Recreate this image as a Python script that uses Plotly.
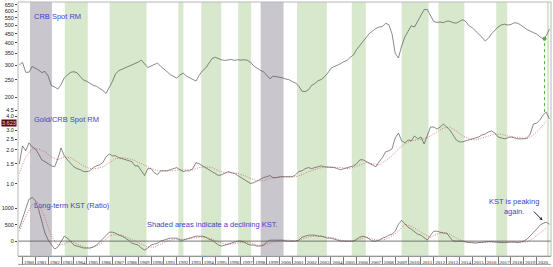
import numpy as np
import plotly.graph_objects as go

# ---------------- data ----------------
# quarterly series, first point 1979.75
crb_spot = [
    302,                                   # 1979.75
    312, 275, 275, 296,                    # 1980
    290, 283, 274, 278,                    # 1981
    262, 232, 228, 222,                    # 1982
    235, 256, 266, 275,                    # 1983
    277, 273, 260, 249,                    # 1984
    245, 238, 233, 230,                    # 1985
    224, 218, 210, 225,                    # 1986
    245, 270, 281, 286,                    # 1987
    291, 295, 300, 306,                    # 1988
    313, 321, 305, 292,                    # 1989
    298, 304, 309, 297,                    # 1990
    288, 277, 267, 260,                    # 1991
    255, 266, 272, 262,                    # 1992
    256, 251, 246, 265,                    # 1993
    280, 290, 308, 328,                    # 1994
    333, 326, 322, 320,                    # 1995
    322, 324, 320, 323,                    # 1996
    321, 323, 320, 312,                    # 1997
    298, 289, 282, 277,                    # 1998
    263, 253, 262, 260,                    # 1999
    260, 256, 252, 250,                    # 2000
    244, 240, 230, 216,                    # 2001
    215, 220, 233, 238,                    # 2002
    247, 251, 260, 272,                    # 2003
    290, 295, 301, 307,                    # 2004
    315, 320, 333, 343,                    # 2005
    368, 388, 407, 428,                    # 2006
    452, 466, 481, 490,                    # 2007
    493, 514, 505, 450,                    # 2008
    350, 330, 385, 432,                    # 2009
    465, 498, 490, 525,                    # 2010
    570, 612, 612, 568,                    # 2011
    525, 520, 522, 518,                    # 2012
    528, 527, 518, 515,                    # 2013
    526, 538, 525, 497,                    # 2014
    485, 466, 453, 430,                    # 2015
    410, 425, 450, 470,                    # 2016
    490, 503, 508, 503,                    # 2017
    506, 517, 515, 504,                    # 2018
    488, 474, 465, 455,                    # 2019
    448, 433, 422, 438,                    # 2020
    478,                                   # 2021.0
]

gold_crb_ratio = [
    1.50,
    2.17, 1.96, 2.31, 2.13,                # 1980
    2.04, 1.84, 1.63, 1.57,                # 1981
    1.50, 1.44, 1.41, 1.67,                # 1982
    2.08, 1.77, 1.63, 1.50,                # 1983
    1.41, 1.36, 1.33, 1.28,                # 1984
    1.28, 1.30, 1.39, 1.44,                # 1985
    1.47, 1.54, 1.73, 1.84,                # 1986
    1.77, 1.77, 1.70, 1.67,                # 1987
    1.63, 1.60, 1.57, 1.44,                # 1988
    1.44, 1.30, 1.18, 1.36,                # 1989
    1.36, 1.25, 1.20, 1.30,                # 1990
    1.30, 1.30, 1.33, 1.36,                # 1991
    1.39, 1.33, 1.28, 1.30,                # 1992
    1.30, 1.36, 1.54, 1.50,                # 1993
    1.44, 1.39, 1.33, 1.28,                # 1994
    1.23, 1.18, 1.20, 1.25,                # 1995
    1.28, 1.25, 1.23, 1.18,                # 1996
    1.13, 1.09, 1.04, 1.00,                # 1997
    1.02, 1.06, 1.09, 1.13,                # 1998
    1.15, 1.18, 1.13, 1.13,                # 1999
    1.15, 1.15, 1.15, 1.15,                # 2000
    1.15, 1.20, 1.28, 1.30,                # 2001
    1.36, 1.39, 1.36, 1.39,                # 2002
    1.41, 1.44, 1.41, 1.41,                # 2003
    1.39, 1.39, 1.36, 1.33,                # 2004
    1.36, 1.39, 1.41, 1.44,                # 2005
    1.50, 1.63, 1.63, 1.57,                # 2006
    1.50, 1.44, 1.41, 1.57,                # 2007
    1.70, 1.92, 1.96, 2.04,                # 2008
    2.56, 2.83, 2.41, 2.31,                # 2009
    2.45, 2.41, 2.66, 2.51,                # 2010
    2.61, 2.26, 2.72, 3.20,                # 2011
    3.20, 3.07, 3.20, 3.40,                # 2012
    3.20, 3.01, 2.72, 2.45,                # 2013
    2.36, 2.36, 2.41, 2.45,                # 2014
    2.51, 2.56, 2.61, 2.72,                # 2015
    2.77, 2.89, 2.95, 2.83,                # 2016
    2.61, 2.56, 2.51, 2.56,                # 2017
    2.61, 2.56, 2.51, 2.51,                # 2018
    2.51, 2.56, 2.77, 3.40,                # 2019
    3.47, 3.69, 4.09, 4.35,                # 2020
    3.77,
]

kst_ratio = [
    394,
    697, 1030, 1273, 1333,                 # 1980
    1242, 970, 606, 242,                   # 1981
    30, -121, -242, -182,                  # 1982
    0, 152, 91, -30,                       # 1983
    -121, -152, -182, -212,                # 1984
    -212, -212, -182, -121,                # 1985
    -30, 61, 182, 273,                     # 1986
    273, 242, 182, 152,                    # 1987
    91, 30, -61, -91,                      # 1988
    -121, -212, -273, -212,                # 1989
    -121, -91, -61, 0,                     # 1990
    30, 61, 91, 91,                        # 1991
    91, 30, 30, 61,                        # 1992
    91, 121, 152, 152,                     # 1993
    152, 121, 61, 30,                      # 1994
    -61, -121, -152, -121,                 # 1995
    -91, -61, -30, 0,                      # 1996
    0, -30, -91, -121,                     # 1997
    -121, -152, -152, -121,                # 1998
    -30, 30, 30, 30,                       # 1999
    30, 30, 0, 0,                          # 2000
    0, 0, 30, 121,                         # 2001
    152, 182, 182, 182,                    # 2002
    152, 152, 121, 91,                     # 2003
    91, 61, 30, 0,                         # 2004
    0, 0, 0, 0,                            # 2005
    61, 121, 152, 121,                     # 2006
    61, 0, 0, 30,                          # 2007
    91, 121, 182, 212,                     # 2008
    303, 515, 636, 515,                    # 2009
    424, 364, 273, 212,                    # 2010
    182, 91, 30, 182,                      # 2011
    303, 303, 273, 242,                    # 2012
    242, 121, 0, 0,                        # 2013
    0, 0, -30, -45,                        # 2014
    -60, -60, -45, -30,                    # 2015
    -30, -15, -15, -30,                    # 2016
    -30, -45, -45, -30,                    # 2017
    -30, -30, -45, -30,                    # 2018
    0, 61, 152, 242,                       # 2019
    364, 485, 545, 576,                    # 2020
    515,
]

# half-yearly smoothed (red dotted) lines, first point 1979.75
ratio_signal = [
    1.23, 1.73, 2.04, 2.04, 1.92, 1.73, 1.63, 1.73, 1.70, 1.57,   # 1979.75-1984.25
    1.44, 1.36, 1.36, 1.41, 1.54, 1.67, 1.70, 1.67, 1.60, 1.50,   # 1984.75-1989.25
    1.41, 1.33, 1.30, 1.30, 1.30, 1.33, 1.33, 1.33, 1.39, 1.41,   # 1989.75-1994.25
    1.39, 1.30, 1.25, 1.25, 1.23, 1.18, 1.11, 1.06, 1.06, 1.11,   # 1994.75-1999.25
    1.13, 1.15, 1.15, 1.15, 1.20, 1.28, 1.33, 1.39, 1.41, 1.41,   # 1999.75-2004.25
    1.39, 1.36, 1.39, 1.47, 1.54, 1.50, 1.47, 1.60, 1.77, 2.04,   # 2004.75-2009.25
    2.26, 2.41, 2.45, 2.51, 2.66, 2.89, 3.14, 3.20, 2.95, 2.66,   # 2009.75-2014.25
    2.51, 2.45, 2.56, 2.66, 2.77, 2.77, 2.66, 2.61, 2.56, 2.51,   # 2014.75-2019.25
    2.72, 3.07, 3.62,                                             # 2019.75-2020.75
]

kst_signal = [
    303, 758, 1121, 1182, 697, 152, -121, -91, 0, -91,            # 1979.75-1984.25
    -182, -212, -152, -30, 152, 212, 182, 91, 0, -91,             # 1984.75-1989.25
    -182, -182, -91, 0, 61, 61, 61, 91, 121, 121,                 # 1989.75-1994.25
    61, -30, -91, -91, -61, -30, -61, -121, -121, -61,            # 1994.75-1999.25
    0, 30, 30, 0, 61, 121, 152, 152, 121, 91,                     # 1999.75-2004.25
    30, 0, 0, 61, 121, 61, 30, 61, 152, 303,                      # 2004.75-2009.25
    515, 455, 333, 212, 121, 212, 273, 212, 91, 0,                # 2009.75-2014.25
    -30, -40, -40, -30, -30, -35, -35, -35, -35, -30,             # 2014.75-2019.25
    91, 242, 394,                                                 # 2019.75-2020.75
]

quarter_dates = 1979.75 + 0.25 * np.arange(len(crb_spot))
half_dates = 1979.75 + 0.5 * np.arange(len(ratio_signal))

# periods of declining KST (start, end) in decimal years
gray_periods = [(1980.58, 1982.29), (1998.53, 2000.31)]
green_periods = [(1983.29, 1985.08), (1986.78, 1989.65), (1992.13, 1992.52),
                 (1993.91, 1995.46), (1996.78, 1997.79), (2001.36, 2003.68),
                 (2005.62, 2006.71), (2009.50, 2011.59), (2012.36, 2014.38),
                 (2016.86, 2017.71), (2020.81, 2020.97)]

years = list(range(1980, 2021))
crb_ticks = [200, 250, 300, 350, 400, 450, 500, 550, 600, 650]
ratio_ticks = [1.0, 1.5, 2.0, 2.5, 3.0, 4.0, 4.5]
kst_ticks = [0, 500, 1000]
last_ratio_label = "3.623"
marker_date = 2020.62
marker_crb = 422
marker_ratio = 4.35

# ---------------- layout helpers ----------------
X_RANGE = [1979.65, 2021.12]
D1 = [0.5703, 1.0]
D2 = [0.207, 0.586]
D3 = [0.0, 0.246]
R1 = [2.224, 2.8288]
R2 = [-0.1773, 0.6826]
R3 = [-455, 1455]


def to_paper(v, rng, dom, log=False):
    val = np.log10(v) if log else v
    f = (val - rng[0]) / (rng[1] - rng[0])
    return dom[0] + f * (dom[1] - dom[0])


BLACK = "#4a4a4a"
RED = "#d84848"
BLUE = "#3f3fc8"
TICKF = dict(family="Liberation Sans, Arial", size=5.5, color="#222")
LW = 0.65

fig = go.Figure()

fig.add_trace(go.Scatter(x=quarter_dates, y=crb_spot, mode="lines",
                         line=dict(color=BLACK, width=LW), yaxis="y", xaxis="x"))
fig.add_trace(go.Scatter(x=half_dates, y=ratio_signal, mode="lines",
                         line=dict(color=RED, width=0.7, dash="1px,1.5px"), yaxis="y2"))
fig.add_trace(go.Scatter(x=quarter_dates, y=gold_crb_ratio, mode="lines",
                         line=dict(color=BLACK, width=LW), yaxis="y2"))
fig.add_trace(go.Scatter(x=half_dates, y=kst_signal, mode="lines",
                         line=dict(color=RED, width=0.7, dash="1px,1.5px"), yaxis="y3"))
fig.add_trace(go.Scatter(x=quarter_dates, y=kst_ratio, mode="lines",
                         line=dict(color=BLACK, width=LW), yaxis="y3"))
fig.add_trace(go.Scatter(x=[marker_date], y=[marker_crb], mode="markers",
                         marker=dict(color="#4caf30", size=4), yaxis="y"))

shapes = []
for a, b in gray_periods:
    shapes.append(dict(type="rect", xref="x", yref="paper", x0=a, x1=b, y0=0, y1=1,
                       fillcolor="#c9c7cd", line=dict(width=0), layer="below"))
for a, b in green_periods:
    shapes.append(dict(type="rect", xref="x", yref="paper", x0=a, x1=b, y0=0, y1=1,
                       fillcolor="#d8e8cd", line=dict(width=0), layer="below"))
# zero line of KST
shapes.append(dict(type="line", xref="paper", yref="y3", x0=0, x1=1, y0=0, y1=0,
                   line=dict(color="#555", width=0.8)))
# green dashed connector
shapes.append(dict(type="line", xref="x", yref="paper", x0=marker_date, x1=marker_date,
                   y0=to_paper(marker_ratio, R2, D2, True),
                   y1=to_paper(marker_crb, R1, D1, True),
                   line=dict(color="#4caf30", width=1, dash="dot")))
# frame
shapes.append(dict(type="rect", xref="paper", yref="paper", x0=0, x1=1, y0=0, y1=1,
                   line=dict(color="#b8b8b8", width=1)))
# year label row bottom line
shapes.append(dict(type="line", xref="paper", yref="paper", x0=0, x1=1,
                   y0=-0.033, y1=-0.033, line=dict(color="#888", width=0.8)))

annotations = [
    dict(text="CRB Spot RM", xref="paper", yref="paper", x=0.026, y=0.941,
         xanchor="left", yanchor="middle", showarrow=False,
         font=dict(family="Liberation Sans, Arial", size=7.5, color=BLUE)),
    dict(text="Gold/CRB Spot RM", xref="paper", yref="paper", x=0.026, y=0.539,
         xanchor="left", yanchor="middle", showarrow=False,
         font=dict(family="Liberation Sans, Arial", size=7.5, color=BLUE)),
    dict(text="Long-term KST (Ratio)", xref="paper", yref="paper", x=0.026, y=0.199,
         xanchor="left", yanchor="middle", showarrow=False,
         font=dict(family="Liberation Sans, Arial", size=7.5, color=BLUE)),
    dict(text="Shaded areas indicate a declining KST.", xref="paper", yref="paper",
         x=0.239, y=0.125, xanchor="left", yanchor="middle", showarrow=False,
         font=dict(family="Liberation Sans, Arial", size=7.5, color=BLUE)),
    dict(text="KST is peaking<br>again.", xref="paper", yref="paper",
         x=0.931, y=0.193, xanchor="center", yanchor="middle", showarrow=False,
         align="center",
         font=dict(family="Liberation Sans, Arial", size=7.5, color=BLUE)),
    dict(text="", xref="paper", yref="paper", x=0.984, y=0.141, ax=-10, ay=-10,
         showarrow=True, arrowhead=2, arrowsize=0.6, arrowwidth=1, arrowcolor="#1a1a60"),
    dict(text=last_ratio_label, xref="paper", yref="y2", x=-0.001, y=np.log10(3.5),
         xanchor="right", yanchor="middle", showarrow=False, bgcolor="#5c0a0a",
         borderpad=0, font=dict(family="Liberation Sans, Arial", size=5.5, color="#f0d0d0")),
]

fig.update_layout(
    width=553, height=267,
    margin=dict(l=16, r=2, t=2, b=9),
    paper_bgcolor="white", plot_bgcolor="rgba(0,0,0,0)",
    showlegend=False,
    shapes=shapes, annotations=annotations,
    xaxis=dict(range=X_RANGE, anchor="y3", showgrid=False, zeroline=False,
               tickmode="array", tickvals=[y + 0.5 for y in years],
               ticktext=[str(y) for y in years], ticks="", tickfont=dict(
                   family="Liberation Serif, serif", size=5, color="#222"),
               ticklabelstandoff=1,
               showline=True, linecolor="#777", linewidth=0.8,
               minor=dict(tickmode="array", tickvals=years, ticks="outside",
                          ticklen=8, tickcolor="#777", tickwidth=0.8)),
    yaxis=dict(domain=D1, type="log", range=R1, anchor="x", tickmode="array",
               tickvals=crb_ticks, ticktext=[str(v) for v in crb_ticks],
               ticks="outside", ticklen=2, tickcolor="#444", tickfont=TICKF,
               showgrid=False, zeroline=False, ticklabelstandoff=0),
    yaxis2=dict(domain=D2, type="log", range=R2, anchor="x", tickmode="array",
                tickvals=ratio_ticks, ticktext=[f"{v:.1f}" for v in ratio_ticks],
                ticks="outside", ticklen=2, tickcolor="#444", tickfont=TICKF,
                showgrid=False, zeroline=False, ticklabelstandoff=0),
    yaxis3=dict(domain=D3, range=R3, anchor="x", tickmode="array",
                tickvals=kst_ticks, ticktext=[str(v) for v in kst_ticks],
                ticks="outside", ticklen=2, tickcolor="#444", tickfont=TICKF,
                showgrid=False, zeroline=False, ticklabelstandoff=0),
)

fig.write_html("out.html")
